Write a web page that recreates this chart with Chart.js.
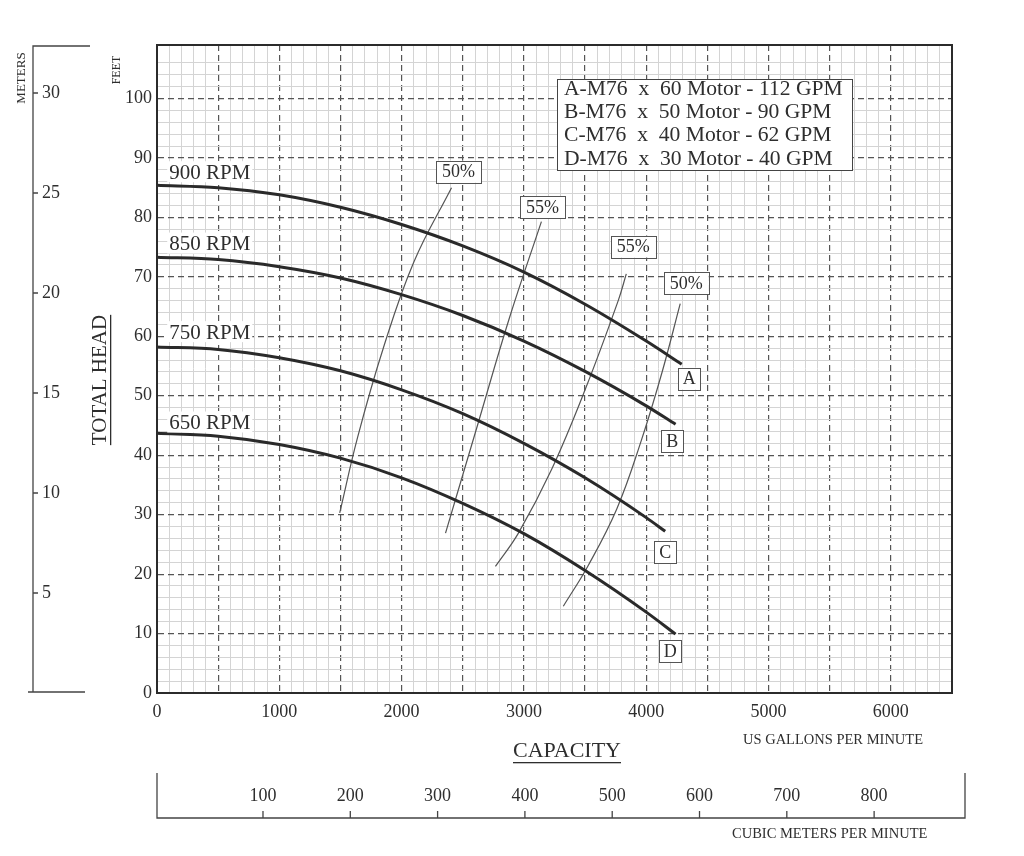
<!DOCTYPE html>
<html>
<head>
<meta charset="utf-8">
<title>M76 pump curves</title>
<script src="https://cdn.jsdelivr.net/npm/chart.js@4.4.1/dist/chart.umd.min.js"></script>
<style>
  html, body { margin: 0; padding: 0; background: #fff; }
</style>
</head>
<body>
<canvas id="myChart" width="1024" height="856"></canvas>
<script>
// head curves (US GPM vs feet)
var curveNames = ['A', 'B', 'C', 'D'];
var rpmLabels = ['900 RPM', '850 RPM', '750 RPM', '650 RPM'];
var motorLabels = [
    'A-M76  x  60 Motor - 112 GPM',
    'B-M76  x  50 Motor - 90 GPM',
    'C-M76  x  40 Motor - 62 GPM',
    'D-M76  x  30 Motor - 40 GPM'
];

var gpmA = [0, 500, 1000, 1500, 2000, 2500, 3000, 3500, 4000, 4290];
var headA = [85.4, 85.0, 83.8, 81.7, 78.8, 75.2, 70.8, 65.4, 59.2, 55.3];
var gpmB = [0, 500, 1000, 1500, 2000, 2500, 3000, 3500, 4000, 4240];
var headB = [73.3, 72.9, 71.7, 69.8, 67.0, 63.5, 59.2, 54.1, 48.3, 45.2];
var gpmC = [0, 500, 1000, 1500, 2000, 2500, 3000, 3500, 4000, 4155];
var headC = [58.2, 57.8, 56.4, 54.2, 51.0, 47.0, 42.0, 36.2, 29.5, 27.2];
var gpmD = [0, 500, 1000, 1500, 2000, 2500, 3000, 3500, 4000, 4240];
var headD = [43.7, 43.2, 41.8, 39.5, 36.2, 31.9, 26.8, 20.6, 13.6, 9.9];

// efficiency lines
var effLabels = ['50%', '55%', '55%', '50%'];
var gpmE1 = [1494, 1640, 1850, 2100, 2408];
var headE1 = [30.3, 43, 58, 72.5, 85];
var gpmE2 = [2359, 2620, 2880, 3143];
var headE2 = [26.9, 45, 63, 79.3];
var gpmE3 = [2767, 2955, 3224, 3500, 3771, 3837];
var headE3 = [21.3, 26.9, 37.5, 51, 66, 70.5];
var gpmE4 = [3322, 3527, 3760, 3960, 4130, 4278];
var headE4 = [14.6, 21.5, 31, 42.5, 54, 65.5];

// where the little labels sit (data units)
var tagGpm = [4351, 4212, 4155, 4196];
var tagHead = [52.9, 42.4, 23.7, 7.1];
var effTagGpm = [2465, 3151, 3894, 4327];
var effTagHead = [87.7, 81.7, 75.1, 68.9];
var rpmGpm = [100, 100, 100, 100];
var rpmHead = [87.6, 75.6, 60.7, 45.5];

// secondary axis ticks
var meterTicks = [5, 10, 15, 20, 25, 30];
var cubicTicks = [100, 200, 300, 400, 500, 600, 700, 800];

var serif = '"Liberation Serif", "DejaVu Serif", serif';
var ink = '#2e2e2e';

function pts(xs, ys) {
    return xs.map(function (v, i) { return { x: v, y: ys[i] }; });
}

function isMajor(c, step) {
    return c.type === 'tick' && c.tick && c.tick.value % step === 0;
}

function headSet(xs, ys) {
    return { data: pts(xs, ys), borderColor: '#2a2a2a', borderWidth: 3, pointRadius: 0, cubicInterpolationMode: 'monotone' };
}
function effSet(xs, ys) {
    return { data: pts(xs, ys), borderColor: '#555', borderWidth: 1.2, pointRadius: 0, tension: 0.4 };
}

function boxedText(c, text, cx, cy) {
    c.font = '18px ' + serif;
    var w = text.length === 1 ? 22 : c.measureText(text).width + 12;
    var h = 22;
    c.fillStyle = '#fff';
    c.fillRect(cx - w / 2, cy - h / 2, w, h);
    c.strokeStyle = '#555';
    c.lineWidth = 1;
    c.strokeRect(Math.round(cx - w / 2) + 0.5, Math.round(cy - h / 2) + 0.5, Math.round(w), h);
    c.fillStyle = ink;
    c.textAlign = 'center';
    c.textBaseline = 'middle';
    c.fillText(text, cx, cy + 1);
}

var decor = {
    id: 'decor',
    afterDatasetsDraw: function (chart) {
        var c = chart.ctx, a = chart.chartArea;
        var sx = chart.scales.x, sy = chart.scales.y, mx = chart.scales.x2, my = chart.scales.y2;
        c.save();

        // frame
        c.strokeStyle = '#2b2b2b';
        c.lineWidth = 2;
        c.strokeRect(a.left, a.top, a.right - a.left, a.bottom - a.top);

        // rpm labels
        c.font = '21px ' + serif;
        c.textAlign = 'left';
        c.textBaseline = 'middle';
        rpmLabels.forEach(function (t, i) {
            var px = sx.getPixelForValue(rpmGpm[i]), py = sy.getPixelForValue(rpmHead[i]);
            var w = c.measureText(t).width;
            c.fillStyle = '#fff';
            c.fillRect(px - 2, py - 11, w + 4, 21);
            c.fillStyle = ink;
            c.fillText(t, px, py + 1);
        });

        curveNames.forEach(function (t, i) {
            boxedText(c, t, sx.getPixelForValue(tagGpm[i]), sy.getPixelForValue(tagHead[i]));
        });
        effLabels.forEach(function (t, i) {
            boxedText(c, t, sx.getPixelForValue(effTagGpm[i]), sy.getPixelForValue(effTagHead[i]));
        });

        // motor legend box
        var lx = a.left + 400, ly = a.top + 34;
        c.fillStyle = '#fff';
        c.fillRect(lx, ly, 295, 91);
        c.strokeStyle = '#444';
        c.lineWidth = 1;
        c.strokeRect(lx + 0.5, ly + 0.5, 295, 91);
        c.font = '21.6px ' + serif;
        c.fillStyle = ink;
        c.textAlign = 'left';
        c.textBaseline = 'middle';
        motorLabels.forEach(function (t, i) {
            c.fillText(t, lx + 7, ly + 10 + i * 23.3);
        });

        // meters bracket
        c.strokeStyle = '#444';
        c.lineWidth = 1.3;
        var bx = my.left - 9;
        c.beginPath();
        c.moveTo(bx + 57, a.top + 1);
        c.lineTo(bx, a.top + 1);
        c.lineTo(bx, a.bottom - 1);
        c.moveTo(bx - 5, a.bottom - 1);
        c.lineTo(bx + 52, a.bottom - 1);
        my.ticks.forEach(function (t) {
            var py = my.getPixelForValue(t.value);
            c.moveTo(bx, py);
            c.lineTo(bx + 5, py);
        });
        c.stroke();

        // cubic meters bracket
        var by = mx.top + 45;
        c.beginPath();
        c.moveTo(mx.left, mx.top);
        c.lineTo(mx.left, by);
        c.lineTo(mx.right + 13, by);
        c.lineTo(mx.right + 13, mx.top);
        mx.ticks.forEach(function (t) {
            var px = mx.getPixelForValue(t.value);
            c.moveTo(px, by - 7);
            c.lineTo(px, by);
        });
        c.stroke();

        // axis titles
        c.fillStyle = ink;
        c.save();
        c.translate(sy.left + 10, (a.top + a.bottom) / 2 + 11);
        c.rotate(-Math.PI / 2);
        c.font = '21px ' + serif;
        c.textAlign = 'center';
        c.textBaseline = 'middle';
        c.fillText('TOTAL HEAD', 0, 0);
        var tw = c.measureText('TOTAL HEAD').width;
        c.fillRect(-tw / 2, 10, tw, 1.3);
        c.restore();

        c.save();
        c.translate(sy.left + 27, a.top + 25);
        c.rotate(-Math.PI / 2);
        c.font = '12px ' + serif;
        c.textAlign = 'center';
        c.textBaseline = 'middle';
        c.fillText('FEET', 0, 0);
        c.restore();

        c.save();
        c.translate(bx - 11, a.top + 33);
        c.rotate(-Math.PI / 2);
        c.font = '13px ' + serif;
        c.textAlign = 'center';
        c.textBaseline = 'middle';
        c.fillText('METERS', 0, 0);
        c.restore();

        c.font = '22px ' + serif;
        c.textAlign = 'center';
        c.textBaseline = 'middle';
        var cx = 567, cw = c.measureText('CAPACITY').width;
        c.fillText('CAPACITY', cx, sx.top + 58);
        c.fillRect(cx - cw / 2, sx.top + 69, cw, 1.3);

        c.font = '14.5px ' + serif;
        c.textAlign = 'left';
        c.fillText('US GALLONS PER MINUTE', 743, sx.top + 47);
        c.fillText('CUBIC METERS PER MINUTE', 732, by + 16);

        c.restore();
    }
};

Chart.defaults.font.family = serif;
Chart.defaults.color = ink;

var ctx = document.getElementById('myChart').getContext('2d');
var myChart = new Chart(ctx, {
    type: 'line',
    data: {
        datasets: [
            headSet(gpmA, headA),
            headSet(gpmB, headB),
            headSet(gpmC, headC),
            headSet(gpmD, headD),
            effSet(gpmE1, headE1),
            effSet(gpmE2, headE2),
            effSet(gpmE3, headE3),
            effSet(gpmE4, headE4)
        ]
    },
    options: {
        responsive: false,
        animation: false,
        devicePixelRatio: 1,
        layout: { padding: { top: 45, right: 72, bottom: 33, left: 42 } },
        plugins: {
            legend: { display: false },
            tooltip: { enabled: false }
        },
        scales: {
            x: {
                type: 'linear', position: 'bottom', min: 0, max: 6500, weight: 0,
                afterFit: function (s) { s.height = 80; },
                ticks: {
                    stepSize: 100, autoSkip: false, maxRotation: 0, padding: 8,
                    font: { size: 18 },
                    callback: function (v) { return (v % 1000 === 0 && v <= 6000) ? String(v) : ''; }
                },
                grid: {
                    drawTicks: false,
                    color: function (c) { return isMajor(c, 500) ? '#555' : '#d4d4d4'; },
                    lineWidth: function (c) { return isMajor(c, 500) ? 1.2 : 1; }
                },
                border: {
                    display: true, color: '#2b2b2b', width: 2,
                    dash: function (c) { return isMajor(c, 500) ? [6, 4] : []; }
                }
            },
            x2: {
                type: 'linear', axis: 'x', position: 'bottom', min: -21.4, max: 889.2, weight: 1,
                afterFit: function (s) { s.height = 50; },
                afterBuildTicks: function (s) { s.ticks = cubicTicks.map(function (v) { return { value: v }; }); },
                ticks: { autoSkip: false, maxRotation: 0, padding: 12, font: { size: 18 } },
                grid: { display: false, drawTicks: false },
                border: { display: false }
            },
            y: {
                type: 'linear', position: 'left', min: 0, max: 109, weight: 0,
                afterFit: function (s) { s.width = 67; },
                ticks: {
                    stepSize: 2, autoSkip: false, padding: 5,
                    font: { size: 18 },
                    callback: function (v) { return (v % 10 === 0 && v <= 100) ? String(v) : ''; }
                },
                grid: {
                    drawTicks: false,
                    color: function (c) { return isMajor(c, 10) ? '#555' : '#d4d4d4'; },
                    lineWidth: function (c) { return isMajor(c, 10) ? 1.2 : 1; }
                },
                border: {
                    display: true, color: '#2b2b2b', width: 2,
                    dash: function (c) { return isMajor(c, 10) ? [6, 4] : []; }
                }
            },
            y2: {
                type: 'linear', axis: 'y', position: 'left', min: 0, max: 32.4, weight: 1,
                afterFit: function (s) { s.width = 48; },
                afterBuildTicks: function (s) { s.ticks = meterTicks.map(function (v) { return { value: v }; }); },
                ticks: { crossAlign: 'far', padding: 0, font: { size: 18 } },
                grid: { display: false, drawTicks: false },
                border: { display: false }
            }
        }
    },
    plugins: [decor]
});
</script>
</body>
</html>
